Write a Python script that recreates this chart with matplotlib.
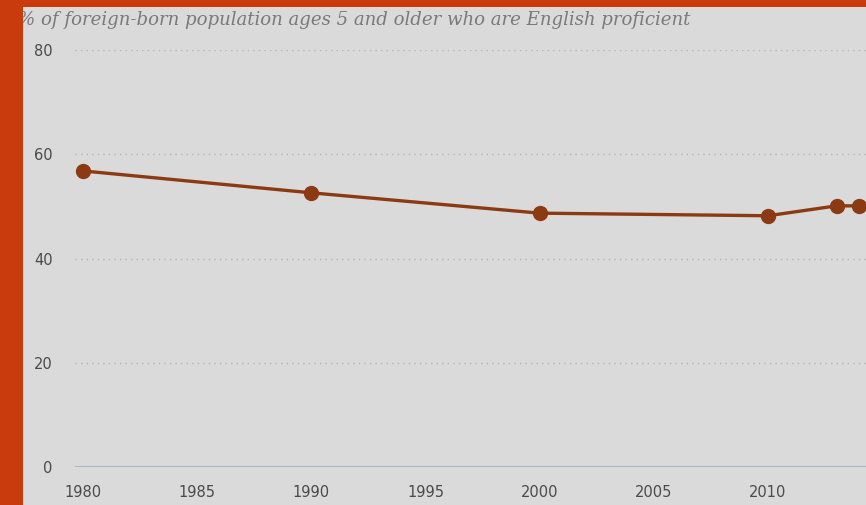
import matplotlib
matplotlib.use("Agg")
import matplotlib.pyplot as plt
from matplotlib.patches import Rectangle

years = [1980, 1990, 2000, 2010, 2013, 2014]
share_proficient = [56.8, 52.6, 48.7, 48.2, 50.1, 50.1]
x_ticks = [1980, 1985, 1990, 1995, 2000, 2005, 2010]
y_ticks = [0, 20, 40, 60, 80]
title = "% of foreign-born population ages 5 and older who are English proficient"

W, H = 866, 505
bg = "#dadada"
line_color = "#8c3a12"
frame_color = "#c93a0c"

fig = plt.figure(figsize=(W / 100, H / 100), dpi=100, facecolor=bg)

# plot area in pixel coordinates
left_px, right_px, top_px, bottom_px = 75, 866, 50, 467
ax = fig.add_axes([left_px / W, 1 - bottom_px / H,
                   (right_px - left_px) / W, (bottom_px - top_px) / H])
ax.set_facecolor(bg)

px_per_year = (768 - 83) / 30
ax.set_xlim(1980 - (83 - left_px) / px_per_year,
            1980 + (right_px - 83) / px_per_year)
ax.set_ylim(0, 80)

for y in y_ticks[1:]:
    ax.axhline(y, color="#b4b4b4", lw=1.0, ls=(0, (1, 3)), zorder=1)
ax.axhline(0, color="#a9b7c6", lw=1.5, zorder=2)

ax.plot(years, share_proficient, color=line_color, lw=2.4, marker="o",
        markersize=10, markerfacecolor=line_color, markeredgecolor=line_color,
        zorder=3, clip_on=False)

for s in ax.spines.values():
    s.set_visible(False)
ax.set_xticks(x_ticks)
ax.set_yticks(y_ticks)
ax.tick_params(length=0, labelsize=10.5, colors="#4a4a4a")
ax.tick_params(axis="x", pad=13)
ax.tick_params(axis="y", pad=16)
for lab in ax.get_xticklabels() + ax.get_yticklabels():
    lab.set_fontfamily("DejaVu Sans")

fig.text(18 / W, 1 - 20 / H, title, fontsize=13.1, style="italic",
         family="DejaVu Serif", color="#7a7a7a", va="center", ha="left")

# orange frame strips at the left and top edges
fig.patches.append(Rectangle((0, 0), 23 / W, 1, transform=fig.transFigure,
                             facecolor=frame_color, edgecolor="none", zorder=10))
fig.patches.append(Rectangle((0, 1 - 7 / H), 1, 7 / H, transform=fig.transFigure,
                             facecolor=frame_color, edgecolor="none", zorder=10))

fig.savefig("out.png", dpi=100, facecolor=bg)
